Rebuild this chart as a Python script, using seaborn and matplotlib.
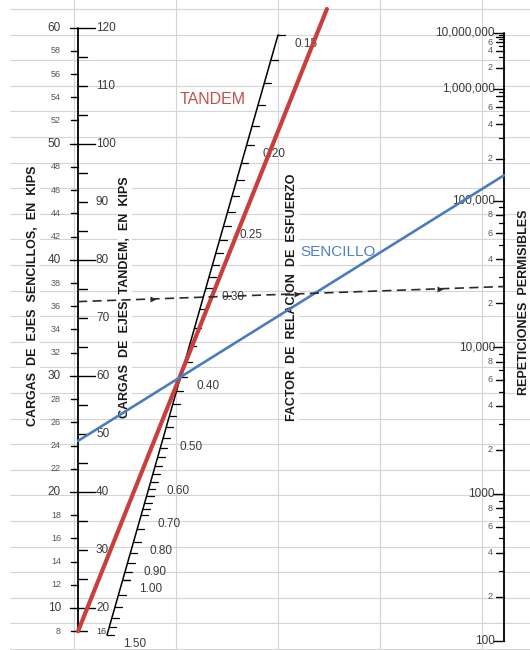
import numpy as np
import pandas as pd
import matplotlib
matplotlib.use("Agg")
import matplotlib.pyplot as plt
import seaborn as sns

# ---------------- values shown on the nomograph ----------------
single_loads = list(range(8, 61, 2))                 # kips, single axle scale
single_major = [60, 50, 40, 30, 20, 10]
tandem_labels = [120, 110, 100, 90, 80, 70, 60, 50, 40, 30, 20, 16]
srf_labels = [0.15, 0.20, 0.25, 0.30, 0.40, 0.50, 0.60, 0.70, 0.80, 0.90, 1.00, 1.50]
reps_major = [100, 1000, 10000, 100000, 1000000, 10000000]
reps_major_text = ["100", "1000", "10,000", "100,000", "1,000,000", "10,000,000"]
reps_minor_labels = [2, 4, 6, 8]

# example lines
tandem_line_load = 16          # tandem kips
tandem_line_srf = 0.39
single_line_load = 24.4        # single kips
single_line_reps = 150000
example_load = 36.4            # single kips
example_reps = 26000

# ---------------- nomograph scales (canvas units, y downward) ----------------
X_LOAD, X_REPS = 78, 504


def y_load(single_kips):
    return 724.2 - 11.61 * np.asarray(single_kips, dtype=float)


def stress_ratio(n):
    # PCA fatigue relation between stress ratio and allowable repetitions
    n = np.asarray(n, dtype=float)
    lg = np.log10(n)
    low = (11.737 - lg) / 12.077
    high = 0.4325 + 4.2577 / n ** (1 / 3.268)
    return np.where(lg <= 11.737 - 12.077 * 0.55, low, high)


def y_reps(n):
    return -787.8 + 1772.0 * stress_ratio(n)


def y_srf(s):
    s = np.asarray(s, dtype=float)
    return (758.8 * s - 104.1) / (s + 0.1286)


def x_srf(s):
    return 107 + (635 - y_srf(s)) * 0.285


# ---------------- figure ----------------
sns.set_theme(style="white")
plt.rcParams["font.family"] = ["Liberation Sans", "DejaVu Sans"]

fig = plt.figure(figsize=(5.3, 6.5), dpi=100)
ax = fig.add_axes([0, 0, 1, 1])
ax.set_xlim(0, 530)
ax.set_ylim(650, 0)
ax.axis("off")

TXT = "#3a3a3a"
GRID = "#d4d4d4"

# spreadsheet grid behind the chart
for k in range(26):
    ax.plot([10, 530], [9 + 25.6 * k] * 2, color=GRID, lw=0.8, zorder=0)
for gx in [74, 176, 278, 380, 482]:
    ax.plot([gx, gx], [0, 650], color=GRID, lw=0.8, zorder=0)

# ---- load axis (single left, tandem right) ----
ax.plot([X_LOAD, X_LOAD], [y_load(60), y_load(8)], color="black", lw=1.3, zorder=4)
for v in single_loads:
    yy = float(y_load(v))
    if v in single_major:
        ax.plot([70, 95], [yy, yy], color="black", lw=1.0, zorder=4)
        ax.text(61, yy, str(v), ha="right", va="center", fontsize=8.5, color=TXT, zorder=4)
    else:
        ax.plot([71, X_LOAD], [yy, yy], color="black", lw=1.0, zorder=4)
        ax.text(61, yy, str(v), ha="right", va="center", fontsize=6.5, color="#555555", zorder=4)

for t in list(range(25, 120, 5)) + [16]:
    if t % 20 == 0:
        continue
    yy = float(y_load(t / 2))
    ax.plot([X_LOAD, 87], [yy, yy], color="black", lw=1.0, zorder=4)
for t in tandem_labels:
    yy = float(y_load(t / 2))
    ax.text(96, yy, str(t), ha="left", va="center",
            fontsize=6.5 if t == 16 else 8.5, color=TXT, zorder=4)

# ---- stress ratio factor (slanted) axis ----
ax.plot([x_srf(0.15), x_srf(1.5)], [y_srf(0.15), y_srf(1.5)], color="black", lw=1.1, zorder=4)
srf_ticks = np.round(np.concatenate([
    np.arange(0.15, 0.30, 0.01), np.arange(0.30, 0.70, 0.02),
    np.arange(0.70, 1.00, 0.05), np.arange(1.00, 1.51, 0.10)]), 3)
for s in srf_ticks:
    xx, yy = float(x_srf(s)), float(y_srf(s))
    ax.plot([xx, xx + 7], [yy, yy], color="black", lw=0.9, zorder=4)
for s in srf_labels:
    xx, yy = float(x_srf(s)), float(y_srf(s))
    ax.text(xx + 16, yy + 9, f"{s:.2f}", ha="left", va="center",
            fontsize=8.5, color=TXT, zorder=4)

# ---- allowable repetitions axis ----
ax.plot([X_REPS, X_REPS], [y_reps(1e7), y_reps(100)], color="black", lw=1.3, zorder=4)
for n, txt in zip(reps_major[::-1], reps_major_text[::-1]):
    yy = float(y_reps(n))
    ax.plot([493, X_REPS], [yy, yy], color="black", lw=1.0, zorder=4)
    ax.text(495, yy, txt, ha="right", va="center", fontsize=8.5, color=TXT, zorder=4)
for base in reps_major[:-1]:
    prev = float(y_reps(base * 10))
    for m in range(9, 1, -1):
        yy = float(y_reps(m * base))
        if m in reps_minor_labels:
            ax.plot([496, X_REPS], [yy, yy], color="black", lw=1.0, zorder=4)
            if abs(yy - prev) >= 8:
                ax.text(493, yy, str(m), ha="right", va="center",
                        fontsize=6.5, color="#555555", zorder=4)
                prev = yy
        else:
            ax.plot([499, X_REPS], [yy, yy], color="black", lw=0.9, zorder=4)

# ---- series names and axis titles ----
box = dict(facecolor="white", edgecolor="none", pad=0.6)
ax.text(300, 252, "SENCILLO", ha="left", va="center", fontsize=11,
        color="#4F81BD", zorder=1)
ax.text(180, 100, "TANDEM", ha="left", va="center", fontsize=11.5,
        color="#C0504D", zorder=1)
ax.text(33, 296, "CARGAS  DE  EJES  SENCILLOS,  EN  KIPS", rotation=90,
        ha="center", va="center", fontsize=9, fontweight="bold", color="#1a1a1a",
        bbox=box, zorder=2)
ax.text(125, 297, "CARGAS  DE  EJES  TANDEM,  EN  KIPS", rotation=90,
        ha="center", va="center", fontsize=9, fontweight="bold", color="#1a1a1a",
        bbox=box, zorder=2)
ax.text(292, 297, "FACTOR  DE  RELACION  DE  ESFUERZO", rotation=90,
        ha="center", va="center", fontsize=9, fontweight="bold", color="#1a1a1a",
        bbox=box, zorder=2)
ax.text(524, 302, "REPETICIONES  PERMISIBLES", rotation=90,
        ha="center", va="center", fontsize=9, fontweight="bold", color="#1a1a1a",
        bbox=box, zorder=2)

# ---- example lines ----
# tandem line: from the tandem load through the stress-ratio point, up to the top
x0, y0 = X_LOAD, float(y_load(tandem_line_load / 2))
x1, y1 = float(x_srf(tandem_line_srf)), float(y_srf(tandem_line_srf))
t_top = (9 - y0) / (y1 - y0)
sns.lineplot(x=[x0, x0 + t_top * (x1 - x0)], y=[y0, 9], ax=ax, color="#C8403E",
             lw=3.0, sort=False, estimator=None, zorder=6)

# single axle line
sns.lineplot(x=[X_LOAD, X_REPS],
             y=[float(y_load(single_line_load)), float(y_reps(single_line_reps))],
             ax=ax, color="#4A7EBB", lw=1.9, sort=False, estimator=None, zorder=6)

# dashed worked example with arrows
ya, yb = float(y_load(example_load)), float(y_reps(example_reps))
sns.lineplot(x=[X_LOAD, X_REPS], y=[ya, yb], ax=ax, color="#2b2b2b", lw=1.2,
             linestyle=(0, (5.5, 3.2)), sort=False, estimator=None, zorder=6)
for f in [0.175, 0.515, 0.85]:
    ax.plot(X_LOAD + f * (X_REPS - X_LOAD), ya + f * (yb - ya), marker=">",
            ms=4.5, color="#2b2b2b", mec="none", zorder=7)

fig.savefig("out.png", dpi=100)
